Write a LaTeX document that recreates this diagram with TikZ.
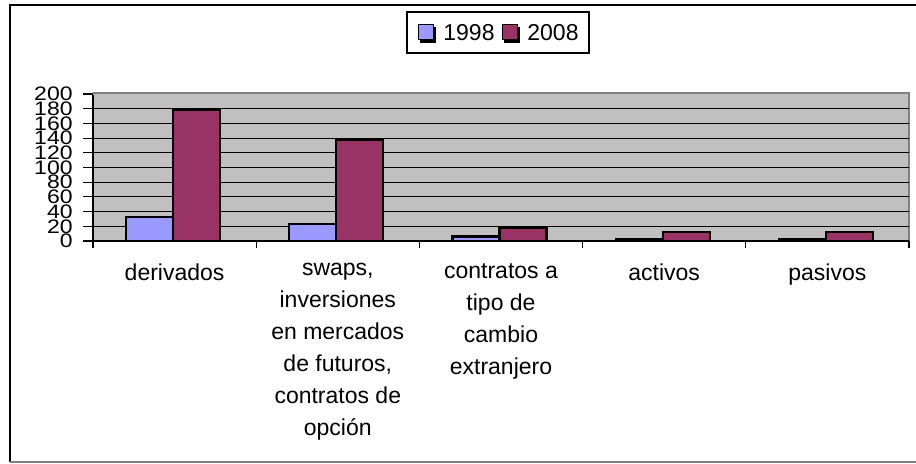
\documentclass[tikz,border=0pt]{standalone}
\usepackage{fontspec}
\setmainfont{Liberation Sans}
\usepackage{xcolor}
\usetikzlibrary{positioning}
\definecolor{barA}{HTML}{9999FF}
\definecolor{barB}{HTML}{993366}
\definecolor{plotgrey}{HTML}{C0C0C0}
\definecolor{edgegrey}{HTML}{808080}

\begin{document}
\begin{tikzpicture}[x=0.5pt, y=-0.5pt,
    every node/.style={font=\fontsize{11.5}{16}\selectfont, inner sep=0pt},
    bar/.style={draw=black, line width=1.1pt},
    grid/.style={draw=black, line width=0.55pt},
    swatch/.style={draw=black, line width=0.5pt},
    catlabel/.style={align=center, anchor=north}]
        \useasboundingbox (0,0) rectangle (916,464);

        \draw[line width=1pt] (916,5) -- (10,5) -- (10,462);
        \draw[edgegrey, line width=0.6pt] (10,462) -- (916,462);

        \fill[plotgrey] (93,93) rectangle (909,241);
        \draw[edgegrey, line width=0.8pt] (93,93) -- (909,93) -- (909,241);
        \foreach \v in {20,40,...,180}
          \draw[grid] (93,{241-\v*0.735}) -- (909,{241-\v*0.735});

        \foreach \i/\a/\b in {0/33/178, 1/23/137, 2/6/18, 3/2/12, 4/2/12} {
          \draw[bar, fill=barA] ({93+163.2*\i+33},241) rectangle ++(47,{-\a*0.735});
          \draw[bar, fill=barB] ({93+163.2*\i+80},241) rectangle ++(47,{-\b*0.735});
        }

        \draw[grid] (93,95) -- (93,248);
        \draw[grid] (93,241) -- (909,241);
        \foreach \v in {0,20,...,200}
          \draw[grid] (83,{241-\v*0.735}) -- (93,{241-\v*0.735});
        \foreach \i in {1,...,5}
          \draw[grid] ({93+163.2*\i},241) -- ({93+163.2*\i},248);

        \foreach \v in {0,20,...,200}
          \node[anchor=east] (ylab\v) at (73,{241-\v*0.735}) {\scalebox{1}[0.85]{\v}};

        \node[catlabel] (deriv) at ({93+163.2*0+81.6},263) {derivados};
        \node[catlabel] (swaps) at ({93+163.2*1+81.6},263) {swaps,\\inversiones\\en mercados\\de futuros,\\contratos de\\opción};
        \node[catlabel] (cambio) at ({93+163.2*2+81.6},263) {contratos a\\tipo de\\cambio\\extranjero};
        \node[catlabel] (activos) at ({93+163.2*3+81.6},263) {activos};
        \node[catlabel] (pasivos) at ({93+163.2*4+81.6},263) {pasivos};

        \draw[line width=0.6pt, fill=white] (407,12) rectangle (589,53);
        \fill[black] (420,27) rectangle (436,43);
        \draw[swatch, fill=barA] (418,25) rectangle (433,40);
        \node[anchor=west] (y1998) at (443,33) {1998};
        \fill[black] (504,27) rectangle (520,43);
        \draw[swatch, fill=barB] (502,25) rectangle (517,40);
        \node[anchor=west] (y2008) at (527,33) {2008};
  \end{tikzpicture}
\end{document}
